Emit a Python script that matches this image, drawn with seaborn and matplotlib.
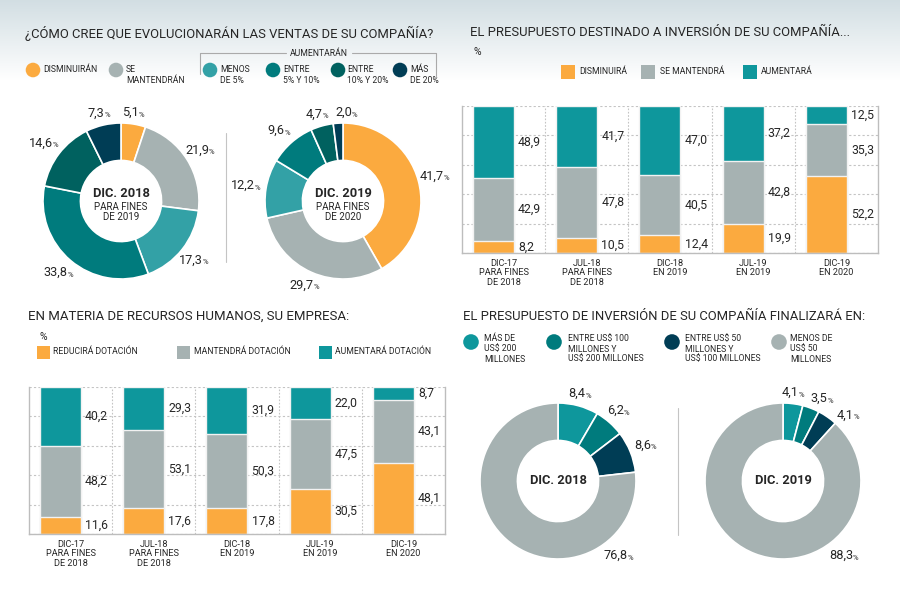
import numpy as np
import pandas as pd
import matplotlib
matplotlib.use("Agg")
import matplotlib.pyplot as plt
import seaborn as sns
from matplotlib.patches import Circle, Rectangle

# ---------------- DATA ----------------
ventas_labels = ["DISMINUIRÁN", "SE MANTENDRÁN", "MENOS DE 5%", "ENTRE 5% Y 10%",
                 "ENTRE 10% Y 20%", "MÁS DE 20%"]
ventas_2018 = [5.1, 21.9, 17.3, 33.8, 14.6, 7.3]
ventas_2019 = [41.7, 29.7, 12.2, 9.6, 4.7, 2.0]

bar_categories = ["DIC-17\nPARA FINES\nDE 2018", "JUL-18\nPARA FINES\nDE 2018",
                  "DIC-18\nEN 2019", "JUL-19\nEN 2019", "DIC-19\nEN 2020"]
inv_disminuira = [8.2, 10.5, 12.4, 19.9, 52.2]
inv_mantendra = [42.9, 47.8, 40.5, 42.8, 35.3]
inv_aumentara = [48.9, 41.7, 47.0, 37.2, 12.5]

rh_reducira = [11.6, 17.6, 17.8, 30.5, 48.1]
rh_mantendra = [48.2, 53.1, 50.3, 47.5, 43.1]
rh_aumentara = [40.2, 29.3, 31.9, 22.0, 8.7]

fin_labels = ["MÁS DE\nUS$ 200\nMILLONES", "ENTRE US$ 100\nMILLONES Y\nUS$ 200 MILLONES",
              "ENTRE US$ 50\nMILLONES Y\nUS$ 100 MILLONES", "MENOS DE\nUS$ 50\nMILLONES"]
fin_2018 = [8.4, 6.2, 8.6, 76.8]
fin_2019 = [4.1, 3.5, 4.1, 88.3]

# ---------------- STYLE ----------------
sns.set_theme(style="white")
plt.rcParams["font.family"] = ["Roboto", "DejaVu Sans"]

ORANGE = "#FBAA3F"
GREY = "#A6B2B2"
TEAL_L = "#33A1A6"
TEAL = "#007B7D"
TEAL_D = "#00615F"
NAVY = "#003D55"
BAR_TEAL = "#0E979C"
TXT = "#262626"
LINE = "#c4c4c4"

ventas_colors = [ORANGE, GREY, TEAL_L, TEAL, TEAL_D, NAVY]
fin_colors = [BAR_TEAL, TEAL, NAVY, GREY]

W, H = 900, 592
fig = plt.figure(figsize=(W / 100, H / 100), dpi=100)

# overlay axes in pixel coordinates
ax0 = fig.add_axes([0, 0, 1, 1])
ax0.set_xlim(0, W)
ax0.set_ylim(H, 0)
ax0.axis("off")

# background gradient
ys = np.arange(H)
t = np.clip(ys / 80.0, 0, 1)
top = np.array([0.825, 0.872, 0.890])
grad = top[None, :] * (1 - t[:, None]) + np.ones(3)[None, :] * t[:, None]
ax0.imshow(grad[:, None, :], extent=[0, W, H, 0], aspect="auto", zorder=0)

titles = []
def title(x, y, s, width):
    tt = ax0.text(x, y, s, fontsize=10, color=TXT, va="center", ha="left")
    titles.append((tt, width))
    return tt

title(25, 33, "¿CÓMO CREE QUE EVOLUCIONARÁN LAS VENTAS DE SU COMPAÑÍA?", 405)
title(470, 33, "EL PRESUPUESTO DESTINADO A INVERSIÓN DE SU COMPAÑÍA...", 378)
title(28, 316, "EN MATERIA DE RECURSOS HUMANOS, SU EMPRESA:", 319)
title(463, 316, "EL PRESUPUESTO DE INVERSIÓN DE SU COMPAÑÍA FINALIZARÁ EN:", 400)

LEG_FS = 6.2

def leg_circle(x, y, color, tx, ty, label, r=7.3, ls=1.15):
    ax0.add_patch(Circle((x, y), r, color=color, zorder=3, lw=0))
    ax0.text(tx, ty, label, fontsize=LEG_FS, color=TXT, va="center", ha="left",
             linespacing=ls, zorder=3)

def leg_square(x, y, color, tx, label, s=14):
    ax0.add_patch(Rectangle((x, y - s / 2), s, s, color=color, zorder=3, lw=0))
    ax0.text(tx, y, label, fontsize=LEG_FS, color=TXT, va="center", ha="left", zorder=3)

# top-left legend
leg_circle(33, 70, ORANGE, 43, 70, "DISMINUIRÁN")
leg_circle(116, 70, GREY, 126, 75, "SE\nMANTENDRÁN")
leg_circle(210, 70, TEAL_L, 220, 75, "MENOS\nDE 5%")
leg_circle(273, 70, TEAL, 283, 75, "ENTRE\n5% Y 10%")
leg_circle(338, 70, TEAL_D, 347, 75, "ENTRE\n10% Y 20%")
leg_circle(400, 70, NAVY, 410, 75, "MÁS\nDE 20%")
ax0.plot([200, 200, 286], [74, 53, 53], color="#aaaaaa", lw=0.8)
ax0.plot([352, 436, 436], [53, 53, 76], color="#aaaaaa", lw=0.8)
ax0.text(319, 53, "AUMENTARÁN", fontsize=LEG_FS, color=TXT, ha="center", va="center")

# top-right legend
ax0.text(473, 52, "%", fontsize=7.5, color=TXT, va="center")
leg_square(561, 72, ORANGE, 579, "DISMINUIRÁ")
leg_square(641, 72, GREY, 660, "SE MANTENDRÁ")
leg_square(743, 72, BAR_TEAL, 761, "AUMENTARÁ")

# bottom-left legend
ax0.text(40, 337, "%", fontsize=7.5, color=TXT, va="center")
leg_square(37, 352, ORANGE, 53, "REDUCIRÁ DOTACIÓN", s=13)
leg_square(177, 352, GREY, 194, "MANTENDRÁ DOTACIÓN", s=13)
leg_square(319, 352, BAR_TEAL, 335, "AUMENTARÁ DOTACIÓN", s=13)

# bottom-right legend
for (cx, tx), lab, col in zip([(471, 484), (554, 568), (672, 685), (779, 790)],
                              fin_labels, fin_colors):
    leg_circle(cx, 342, col, tx, 349, lab, r=7.8)

# separators
ax0.plot([226, 226], [133, 262], color=LINE, lw=0.8)
ax0.plot([678, 678], [408, 535], color=LINE, lw=0.8)


def fmt(v):
    return f"{v:.1f}".replace(".", ",")


# ---------------- DONUTS ----------------
MIN_SEP = 19.0   # minimum angular gap between neighbouring labels (deg)

def donut(cx, cy, values, colors, head, sub=None, R=78):
    k = 1.5
    half = R * k
    ax = fig.add_axes([(cx - half) / W, (H - cy - half) / H, 2 * half / W, 2 * half / H])
    ax.pie(values, colors=colors, startangle=90, counterclock=False, radius=1,
           wedgeprops=dict(width=0.48, edgecolor="white", linewidth=1.2))
    ax.set_xlim(-k, k)
    ax.set_ylim(-k, k)
    ax.axis("off")
    ax.patch.set_alpha(0)
    total = sum(values)
    cum = 0
    angles = []
    for v in values:
        angles.append((cum + v / 2) / total * 360)
        cum += v
    # spread crowded labels
    for i in range(1, len(angles)):
        if values[i] < 60 and values[i - 1] < 60 and angles[i] - angles[i - 1] < MIN_SEP:
            angles[i] = angles[i - 1] + MIN_SEP
    for v, th in zip(values, angles):
        r = 1.13 + 0.11 * abs(np.sin(np.radians(th)))
        if v > 60:
            th, r = 140, 1.25
        x, y = r * np.sin(np.radians(th)), r * np.cos(np.radians(th))
        t = ax.text(x - 0.06, y, fmt(v), fontsize=9.2, color=TXT, ha="center", va="center")
        ax.annotate("%", xy=(1.0, 0.1), xycoords=t, fontsize=5.5, color=TXT,
                    ha="left", va="bottom")
    if sub is None:
        ax.text(0, 0, head, fontsize=9.3, fontweight="bold", color=TXT, ha="center", va="center")
    else:
        ax.text(0, 0.1, head, fontsize=9.3, fontweight="bold", color=TXT, ha="center", va="center")
        ax.text(0, -0.14, sub, fontsize=7, color=TXT, ha="center", va="center", linespacing=1.05)
    return ax


donut(121, 201, ventas_2018, ventas_colors, "DIC. 2018", "PARA FINES\nDE 2019")
donut(343, 201, ventas_2019, ventas_colors, "DIC. 2019", "PARA FINES\nDE 2020")
donut(558, 481, fin_2018, fin_colors, "DIC. 2018")
donut(783, 481, fin_2019, fin_colors, "DIC. 2019")


# ---------------- STACKED BARS ----------------
OFF = 0.378     # bar centre offset from category left edge (fraction)
BW = 0.493

def stacked(left, top_, right, bottom, low, mid, high):
    ax = fig.add_axes([left / W, (H - bottom) / H, (right - left) / W, (bottom - top_) / H])
    ax.patch.set_alpha(0)
    n = len(bar_categories)
    df = pd.DataFrame({"cat": bar_categories, "low": low, "mid": mid, "high": high})
    df["c_mid"] = df["low"] + df["mid"]
    df["c_high"] = df["c_mid"] + df["high"]
    for col, color in [("c_high", BAR_TEAL), ("c_mid", GREY), ("low", ORANGE)]:
        sns.barplot(data=df, x="cat", y=col, order=bar_categories, color=color,
                    saturation=1, width=BW, errorbar=None, ax=ax,
                    edgecolor="#f2f2f2", linewidth=1.0)
    ax.set_xlim(-OFF, n - OFF)
    ax.set_ylim(0, 100)
    ax.set_yticks([0, 20, 40, 60, 80, 100])
    ax.set_yticklabels([])
    ax.yaxis.grid(True, linestyle=(0, (2, 2)), color=LINE, lw=0.8)
    ax.xaxis.grid(False)
    ax.set_axisbelow(True)
    for i in range(n - 1):
        ax.axvline(i + 1 - OFF, color=LINE, lw=0.8, linestyle=(0, (1.5, 1.5)), zorder=0)
    for s in ["left", "right", "bottom"]:
        ax.spines[s].set_visible(True)
        ax.spines[s].set_color("#bdbdbd")
        ax.spines[s].set_linewidth(1.0)
    ax.spines["top"].set_visible(False)
    ax.set_xticks([i + 0.5 - OFF for i in range(n)])
    ax.set_xticklabels(bar_categories, fontsize=6.6, color=TXT, linespacing=1.1)
    ax.tick_params(axis="x", length=0, pad=4)
    ax.tick_params(axis="y", length=0)
    ax.set_xlabel("")
    ax.set_ylabel("")
    for i in range(n):
        segs = [(0, low[i]), (low[i], low[i] + mid[i]), (low[i] + mid[i], low[i] + mid[i] + high[i])]
        vals = [low[i], mid[i], high[i]]
        for (a, b), v in zip(segs, vals):
            ax.text(i + BW / 2 + 0.05, (a + b) / 2, fmt(v), fontsize=8.8, color=TXT,
                    ha="left", va="center")
    return ax


stacked(462, 106, 878, 253, inv_disminuira, inv_mantendra, inv_aumentara)
stacked(29, 387, 445, 534, rh_reducira, rh_mantendra, rh_aumentara)

# fit titles to reference widths
fig.canvas.draw()
rend = fig.canvas.get_renderer()
for tt, wpx in titles:
    w = tt.get_window_extent(rend).width
    tt.set_fontsize(tt.get_fontsize() * wpx / w)

fig.savefig("out.png", dpi=100)
